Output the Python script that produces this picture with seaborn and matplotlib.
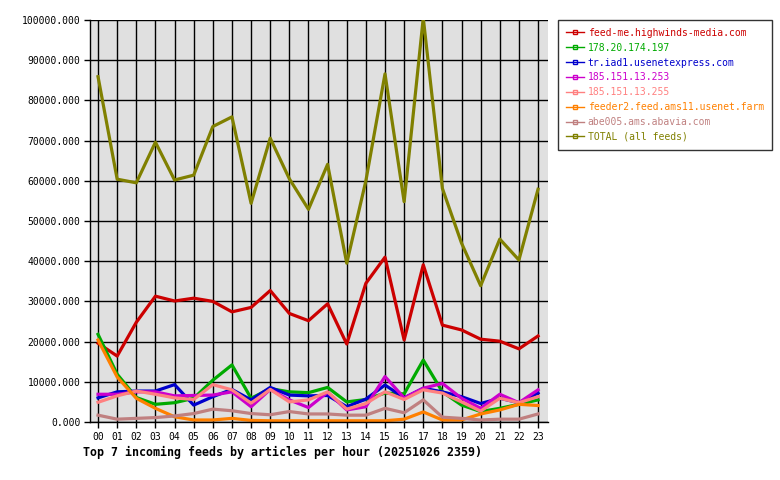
import pandas as pd
import numpy as np
import matplotlib
matplotlib.use("Agg")
import matplotlib.pyplot as plt
import seaborn as sns
from matplotlib.lines import Line2D

# hourly incoming articles per feed
hours = ["%02d" % h for h in range(24)]
feeds = ["feed-me.highwinds-media.com", "178.20.174.197", "tr.iad1.usenetexpress.com",
         "185.151.13.253", "185.151.13.255", "feeder2.feed.ams11.usenet.farm",
         "abe005.ams.abavia.com", "TOTAL (all feeds)"]
colors = ["#CC0000", "#00AA00", "#0000CC", "#CC00CC", "#FF8080", "#FF8000", "#C08080", "#808000"]

highwinds = [19600, 16400, 24800, 31300, 30100, 30800, 30000, 27400, 28500, 32700, 27000, 25200,
             29400, 19400, 34500, 41000, 20400, 39100, 24100, 22900, 20600, 20100, 18200, 21400]
ip_178 = [21800, 11900, 6100, 4400, 4800, 5900, 10400, 14200, 5900, 8300, 7500, 7300,
          8600, 5000, 5600, 7200, 7000, 15400, 7500, 4200, 2600, 3400, 4400, 5500]
usenetexpress = [6000, 7500, 7700, 7700, 9300, 4200, 6300, 8100, 5500, 8600, 6700, 6500,
                 6600, 3800, 5700, 9200, 6000, 8400, 7500, 6300, 4600, 5900, 4800, 7200]
ip_253 = [6900, 6900, 7500, 7500, 6500, 6600, 6700, 7500, 3800, 8100, 5500, 3600,
          7400, 3000, 3800, 11300, 6000, 8400, 9600, 5900, 3400, 6900, 4800, 8000]
ip_255 = [4900, 6500, 7700, 6900, 6000, 5600, 9300, 8000, 4700, 8100, 5000, 5500,
          7500, 3200, 4600, 7500, 5600, 8000, 7200, 5000, 2700, 5900, 4800, 6300]
usenet_farm = [20400, 11200, 5900, 3400, 1300, 500, 500, 900, 400, 300, 300, 300,
               300, 300, 300, 300, 700, 2500, 500, 500, 2000, 3000, 4400, 4100]
abavia = [1700, 700, 900, 1100, 1500, 2100, 3200, 2800, 2100, 1800, 2600, 2000,
          2000, 1700, 1700, 3400, 2300, 5500, 1200, 900, 500, 700, 700, 2000]
total = [85900, 60400, 59500, 69600, 60200, 61400, 73500, 75900, 54400, 70600, 60500, 52900,
         64100, 39500, 60000, 86600, 54800, 100500, 58100, 44500, 33900, 45500, 40300, 57900]

series = [highwinds, ip_178, usenetexpress, ip_253, ip_255, usenet_farm, abavia, total]

rows = []
for name, vals in zip(feeds, series):
    for h, v in enumerate(vals):
        rows.append({"hour": h, "articles": v, "feed": name})
df = pd.DataFrame(rows)

mono = "DejaVu Sans Mono"
plt.rcParams["font.family"] = mono

fig = plt.figure(figsize=(7.8, 4.8), dpi=100)
ax = fig.add_axes([90 / 780, 58 / 480, 458 / 780, 402 / 480])
ax.set_facecolor("#E0E0E0")

sns.lineplot(data=df, x="hour", y="articles", hue="feed", hue_order=feeds,
             palette=dict(zip(feeds, colors)), linewidth=2.3, legend=False, ax=ax)

ax.set_xlim(-0.42, 23.52)
ax.set_ylim(0, 100000)
ax.set_xticks(range(24))
ax.set_xticklabels(hours)
ax.set_yticks(np.arange(0, 100001, 10000))
ax.set_yticklabels(["%d.000" % v for v in range(0, 100001, 10000)])
ax.grid(True, color="black", linewidth=1)
ax.set_axisbelow(True)
for s in ["top", "right"]:
    ax.spines[s].set_visible(False)
ax.spines["left"].set_linewidth(1)
ax.spines["bottom"].set_linewidth(1)
ax.tick_params(axis="both", labelsize=7, length=4, width=1, colors="black", pad=3)

ax.set_xlabel("")
ax.set_ylabel("")

handles = [Line2D([0], [0], color=c, linewidth=1, marker="s", markersize=3,
                  markerfacecolor="none", markeredgewidth=1) for c in colors]
leg = fig.legend(handles, feeds, loc="upper left", bbox_to_anchor=(558 / 780, 1 - 20 / 480),
                 borderaxespad=0, fontsize=7, frameon=True, fancybox=False, edgecolor="black",
                 handlelength=1.9, handletextpad=0.35, labelspacing=0.5, borderpad=0.8)
leg.get_frame().set_linewidth(1)
for t, c in zip(leg.get_texts(), colors):
    t.set_color(c)

fig.text(83 / 780, 1 - 452 / 480, "Top 7 incoming feeds by articles per hour (20251026 2359)",
         fontsize=8.4, fontweight="bold", va="center", ha="left")

fig.savefig("out.png", dpi=100)
